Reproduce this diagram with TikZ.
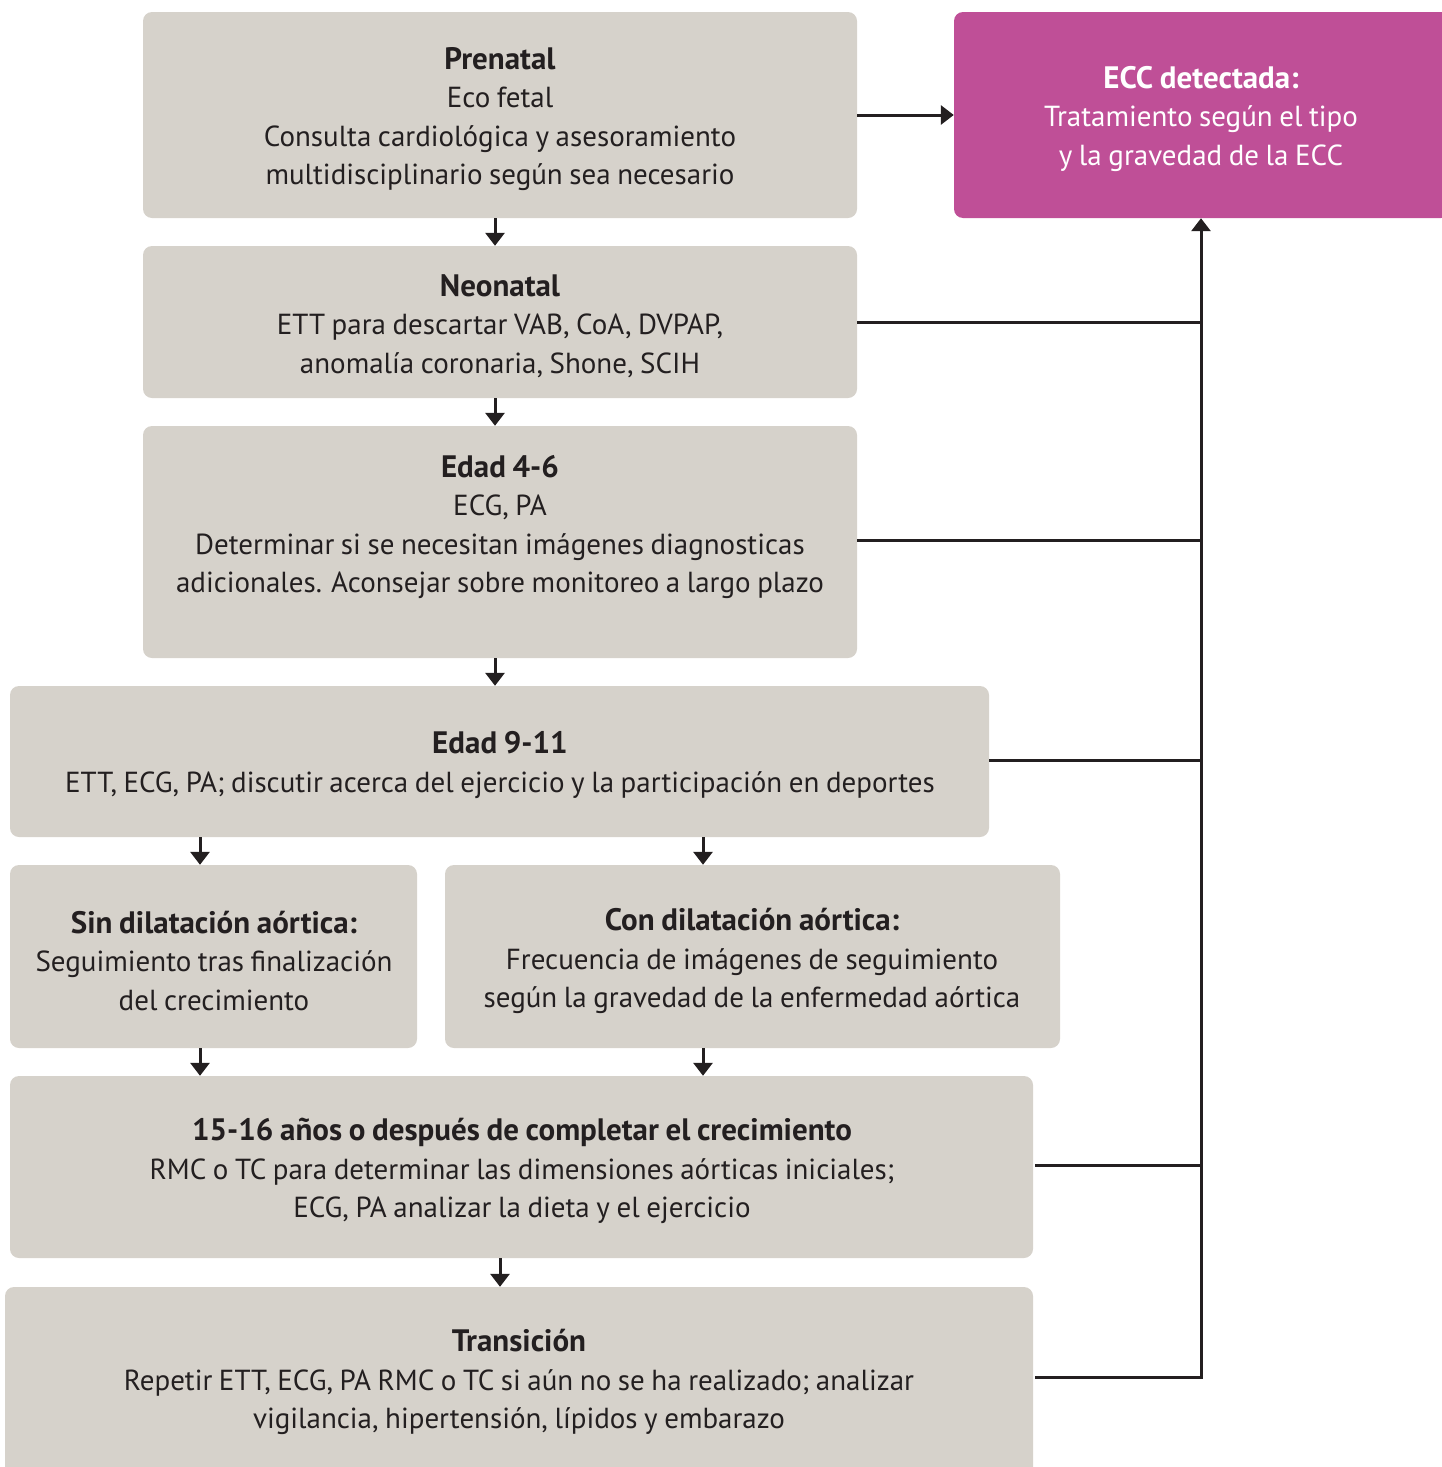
\documentclass[tikz,border=0pt]{standalone}
\usepackage{fontspec}
\setmainfont{PT Sans}[WordSpace=0.85]
\usetikzlibrary{arrows.meta}
\definecolor{boxgray}{HTML}{D6D2CB}
\definecolor{eccpink}{HTML}{BF4F97}
\definecolor{ink}{HTML}{231F20}
\newcommand{\boxtitle}[1]{{\fontsize{31}{38.4}\selectfont\bfseries #1}}
\begin{document}
\begin{tikzpicture}[x=1pt,y=-1pt,
  box/.style={fill=boxgray, rounded corners=9pt, draw=none, inner sep=0pt},
  txt/.style={align=center, text=ink, font=\fontsize{29}{38.4}\selectfont, inner sep=0pt},
  arr/.style={draw=ink, line width=3pt, -{Triangle[width=19pt,length=13pt]}},
  ln/.style={draw=ink, line width=3pt}]
\useasboundingbox (0,0) rectangle (1442,1467);
% boxes
\node[box, minimum width=714pt, minimum height=206pt] (pre) at (500,115) {};
\node[box, fill=eccpink, minimum width=496pt, minimum height=206pt] (ecc) at (1202,115) {};
\node[box, minimum width=714pt, minimum height=152pt] (neo) at (500,322) {};
\node[box, minimum width=714pt, minimum height=232pt] (e46) at (500,542) {};
\node[box, minimum width=979pt, minimum height=151pt] (e911) at (499.5,761.5) {};
\node[box, minimum width=407pt, minimum height=183pt] (sin) at (213.5,956.5) {};
\node[box, minimum width=615pt, minimum height=183pt] (con) at (752.5,956.5) {};
\node[box, minimum width=1023pt, minimum height=182pt] (e1516) at (521.5,1167) {};
\node[box, minimum width=1028pt, minimum height=193pt] (tra) at (519,1383.5) {};
% texts
\node[txt] (tpre) at (500,119) {\boxtitle{Prenatal}\\Eco fetal\\Consulta cardiológica y asesoramiento\\multidisciplinario según sea necesario};
\node[txt, text=white] (tecc) at (1201,119) {\boxtitle{ECC detectada:}\\Tratamiento según el tipo\\y la gravedad de la ECC};
\node[txt] (tneo) at (500,326) {\boxtitle{Neonatal}\\ETT para descartar VAB, CoA, DVPAP,\\anomalía coronaria, Shone, SCIH};
\node[txt] (te46) at (500,527) {\boxtitle{Edad 4-6}\\ECG, PA\\Determinar si se necesitan imágenes diagnosticas\\adicionales. Aconsejar sobre monitoreo a largo plazo};
\node[txt] (te911) at (500,765) {\boxtitle{Edad 9-11}\\ETT, ECG, PA; discutir acerca del ejercicio y la participación en deportes};
\node[txt] (tsin) at (214,961) {\boxtitle{Sin dilatación aórtica:}\\Seguimiento tras finalización\\del crecimiento};
\node[txt] (tcon) at (752,961) {\boxtitle{Con dilatación aórtica:}\\Frecuencia de imágenes de seguimiento\\según la gravedad de la enfermedad aórtica};
\node[txt] (te1516) at (522,1171) {\boxtitle{15-16 años o después de completar el crecimiento}\\RMC o TC para determinar las dimensiones aórticas iniciales;\\ECG, PA analizar la dieta y el ejercicio};
\node[txt] (ttra) at (519,1382) {\boxtitle{Transición}\\Repetir ETT, ECG, PA RMC o TC si aún no se ha realizado; analizar\\vigilancia, hipertensión, lípidos y embarazo};
% helper coordinates
\coordinate (xa) at (495,0);
\coordinate (xl) at (200,0);
\coordinate (xr) at (703,0);
\coordinate (xt) at (500,0);
\coordinate (bus) at (1201,0);
\coordinate (ytra) at (0,1377);
\coordinate (y1516) at (0,1165);
\coordinate (y46) at (0,540);
\coordinate (y911) at (0,760);
% vertical flow arrows
\draw[arr] (pre.south -| xa) -- (neo.north -| xa);
\draw[arr] (neo.south -| xa) -- (e46.north -| xa);
\draw[arr] (e46.south -| xa) -- (e911.north -| xa);
\draw[arr] (e911.south -| xl) -- (sin.north -| xl);
\draw[arr] (e911.south -| xr) -- (con.north -| xr);
\draw[arr] (sin.south -| xl) -- (e1516.north -| xl);
\draw[arr] (con.south -| xr) -- (e1516.north -| xr);
\draw[arr] (e1516.south -| xt) -- (tra.north -| xt);
% to ECC
\draw[arr] (pre.east) -- (ecc.west);
\draw[arr] ([xshift=2pt]tra.east |- ytra) -| (ecc.south -| bus);
\draw[ln] (neo.east) -- (neo.east -| bus);
\draw[ln] (e46.east |- y46) -- (bus |- y46);
\draw[ln] (e911.east |- y911) -- (bus |- y911);
\draw[ln] ([xshift=2pt]e1516.east |- y1516) -- (bus |- y1516);
\end{tikzpicture}
\end{document}
